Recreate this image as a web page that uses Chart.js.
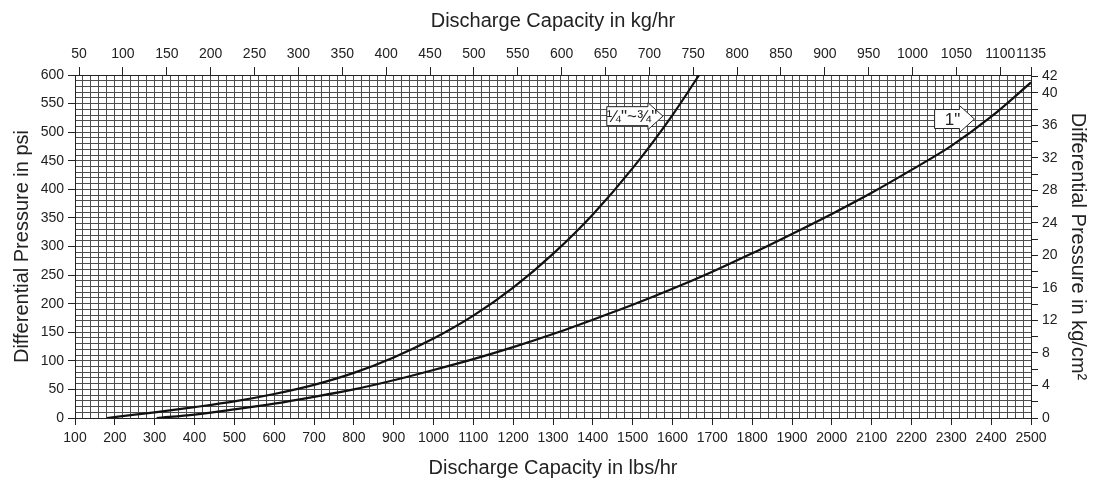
<!DOCTYPE html>
<html>
<head>
<meta charset="utf-8">
<script src="https://cdn.jsdelivr.net/npm/chart.js@4.4.1/dist/chart.umd.min.js"></script>
<style>
html,body{margin:0;padding:0;background:#fff;}
#c{display:block;}
</style>
</head>
<body>
<canvas id="c" width="1109" height="483"></canvas>
<script>
// ---------- data ----------
const smallValveLbs = [180, 250, 300, 400, 500, 600, 700, 800, 900, 1000, 1100, 1200, 1300, 1400, 1500, 1600, 1667];
const smallValvePsi = [0, 6, 10, 19, 29, 42, 58, 79, 106, 139, 179, 228, 287, 356, 437, 530, 600];

const oneInchLbs = [305, 400, 500, 600, 700, 800, 900, 1000, 1100, 1200, 1300, 1400, 1500, 1600, 1700, 1800, 1900, 2000, 2100, 2200, 2300, 2400, 2500];
const oneInchPsi = [0, 6, 15, 25, 37, 50, 66, 84, 103, 124, 147, 172, 198, 226, 256, 288, 322, 357, 394, 434, 476, 527, 587];

const lbsTickLabels = [100, 200, 300, 400, 500, 600, 700, 800, 900, 1000, 1100, 1200, 1300, 1400, 1500, 1600, 1700, 1800, 1900, 2000, 2100, 2200, 2300, 2400, 2500];
const kgTickLabels = [50, 100, 150, 200, 250, 300, 350, 400, 450, 500, 550, 600, 650, 700, 750, 800, 850, 900, 950, 1000, 1050, 1100, 1135];
const psiTickLabels = [0, 50, 100, 150, 200, 250, 300, 350, 400, 450, 500, 550, 600];
const kgcmTickLabels = [0, 4, 8, 12, 16, 20, 24, 28, 32, 36, 40, 42];

const curveLabelTexts = ['\u00BC"~\u00BE"', '1"'];
const curveLabelLeftLbs = [1435, 2258];
const curveLabelTipLbs = [1576, 2358];
const curveLabelPsi = [528, 523];

// ---------- helpers ----------
const LB_PER_KG = 2.20462;
const PSI_PER_KGCM2 = 14.2233;
function steps(a, b, s) { const r = []; for (let v = a; v <= b + 1e-9; v += s) r.push(Math.round(v * 1000) / 1000); return r; }
const FONT = '"Liberation Sans", Arial, Helvetica, sans-serif';
const TXT = '#222';
const GRID = '#4d4d4d';
const AXIS = '#222';
const tickFont = { family: FONT, size: 14 };
const titleFont = { family: FONT, size: 20 };

const arrowLabels = {
  id: 'arrowLabels',
  afterDatasetsDraw(chart) {
    const { ctx, scales: { x, y } } = chart;
    ctx.save();
    ctx.font = '17px ' + FONT;
    curveLabelTexts.forEach((txt, i) => {
      const x0 = x.getPixelForValue(curveLabelLeftLbs[i]);
      const tx = x.getPixelForValue(curveLabelTipLbs[i]);
      const cy = y.getPixelForValue(curveLabelPsi[i]);
      const head = 15, bh = 19, hh = 27;
      const x1 = tx - head;
      ctx.beginPath();
      ctx.moveTo(x0, cy - bh / 2);
      ctx.lineTo(x1, cy - bh / 2);
      ctx.lineTo(x1, cy - hh / 2);
      ctx.lineTo(tx, cy);
      ctx.lineTo(x1, cy + hh / 2);
      ctx.lineTo(x1, cy + bh / 2);
      ctx.lineTo(x0, cy + bh / 2);
      ctx.closePath();
      ctx.fillStyle = '#fff';
      ctx.fill();
      ctx.strokeStyle = '#222';
      ctx.lineWidth = 1;
      ctx.stroke();
      ctx.fillStyle = TXT;
      ctx.textAlign = 'center';
      ctx.textBaseline = 'middle';
      ctx.fillText(txt, x0 + (tx - x0) * 0.45, cy + 1);
    });
    ctx.restore();
  }
};

const toPoints = (xs, ys) => xs.map((v, i) => ({ x: v, y: ys[i] }));

new Chart(document.getElementById('c'), {
  type: 'line',
  data: {
    datasets: [
      { label: '\u00BC"~\u00BE"', data: toPoints(smallValveLbs, smallValvePsi), xAxisID: 'x', yAxisID: 'y',
        borderColor: '#111', borderWidth: 2.2, pointRadius: 0, fill: false, cubicInterpolationMode: 'monotone' },
      { label: '1"', data: toPoints(oneInchLbs, oneInchPsi), xAxisID: 'x', yAxisID: 'y',
        borderColor: '#111', borderWidth: 2.2, pointRadius: 0, fill: false, cubicInterpolationMode: 'monotone' }
    ]
  },
  options: {
    responsive: false,
    animation: false,
    layout: { padding: 0 },
    plugins: { legend: { display: false }, tooltip: { enabled: false } },
    scales: {
      x: {
        type: 'linear', position: 'bottom', min: 100, max: 2500,
        afterBuildTicks: s => { s.ticks = steps(100, 2500, 20).map(v => ({ value: v })); },
        afterFit: s => { s.height = 65; s.paddingLeft = 0; s.paddingRight = 0; },
        ticks: { autoSkip: false, maxRotation: 0, minRotation: 0, padding: 5, color: TXT, font: tickFont,
          callback: v => lbsTickLabels.includes(v) ? String(v) : '' },
        grid: { color: GRID, lineWidth: 1, drawTicks: true, tickLength: 7, tickWidth: 1,
          tickColor: c => (c.tick && lbsTickLabels.includes(c.tick.value)) ? AXIS : 'rgba(0,0,0,0)' },
        border: { display: true, color: AXIS, width: 1 },
        title: { display: true, text: 'Discharge Capacity in lbs/hr', color: TXT, font: titleFont, padding: { top: 0, bottom: 3 } }
      },
      x2: {
        type: 'linear', position: 'top', min: 100 / LB_PER_KG, max: 1135,
        afterBuildTicks: s => { s.ticks = kgTickLabels.map(v => ({ value: v })); },
        afterFit: s => { s.height = 75; s.paddingLeft = 0; s.paddingRight = 0; },
        ticks: { autoSkip: false, maxRotation: 0, minRotation: 0, padding: 4, color: TXT, font: tickFont,
          callback: v => String(v) },
        grid: { drawOnChartArea: false, drawTicks: true, tickLength: 8, tickWidth: 1, color: AXIS, tickColor: AXIS },
        border: { display: true, color: AXIS, width: 1 },
        title: { display: true, text: 'Discharge Capacity in kg/hr', color: TXT, font: titleFont, padding: { top: 9, bottom: 0 } }
      },
      y: {
        type: 'linear', position: 'left', min: 0, max: 600,
        afterBuildTicks: s => { s.ticks = steps(0, 600, 10).map(v => ({ value: v })); },
        afterFit: s => { s.width = 75; s.paddingTop = 0; s.paddingBottom = 0; },
        ticks: { autoSkip: false, padding: 4, color: TXT, font: tickFont,
          callback: v => psiTickLabels.includes(v) ? String(v) : '' },
        grid: { color: GRID, lineWidth: 1, drawTicks: true, tickLength: 7, tickWidth: 1,
          tickColor: c => (c.tick && psiTickLabels.includes(c.tick.value)) ? AXIS : 'rgba(0,0,0,0)' },
        border: { display: true, color: AXIS, width: 1 },
        title: { display: true, text: 'Differential Pressure in psi', color: TXT, font: titleFont, padding: { top: 10, bottom: 0 } }
      },
      y2: {
        type: 'linear', position: 'right', min: 0, max: 600 / PSI_PER_KGCM2,
        afterBuildTicks: s => { s.ticks = steps(0, 42, 2).map(v => ({ value: v })); },
        afterFit: s => { s.width = 78; s.paddingTop = 0; s.paddingBottom = 0; },
        ticks: { autoSkip: false, padding: 4, color: TXT, font: tickFont,
          callback: v => kgcmTickLabels.includes(v) ? String(v) : '' },
        grid: { drawOnChartArea: false, drawTicks: true, tickLength: 7, tickWidth: 1, color: AXIS, tickColor: AXIS },
        border: { display: true, color: AXIS, width: 1 },
        title: { display: true, text: 'Differential Pressure in kg/cm\u00B2', color: TXT, font: titleFont, padding: { top: 19, bottom: 0 } }
      }
    }
  },
  plugins: [arrowLabels]
});
</script>
</body>
</html>
